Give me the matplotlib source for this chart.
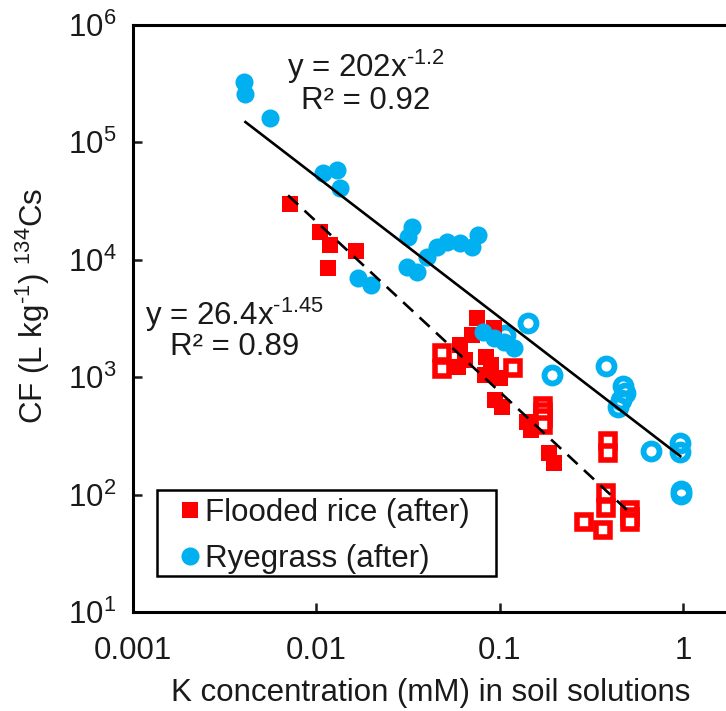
import matplotlib
matplotlib.use("Agg")
import matplotlib.pyplot as plt
import numpy as np
from matplotlib.lines import Line2D
from matplotlib.patches import Rectangle

plt.rcParams['font.family'] = ['Liberation Sans', 'DejaVu Sans']
plt.rcParams['mathtext.fontset'] = 'custom'
plt.rcParams['mathtext.rm'] = 'Liberation Sans'
plt.rcParams['mathtext.it'] = 'Liberation Sans:italic'
plt.rcParams['mathtext.bf'] = 'Liberation Sans:bold'

# Flooded rice (after) - filled squares
rice_x = [0.00713, 0.0104, 0.0119, 0.0165, 0.0116, 0.0753, 0.0933, 0.0708, 0.0602,
          0.0641, 0.0587, 0.0834, 0.0888, 0.0824, 0.0994, 0.0945, 0.103, 0.141,
          0.147, 0.186, 0.198]
rice_y = [29700, 17100, 13300, 11800, 8470, 3180, 2610, 2280, 1870,
          1396, 1217, 1480, 1265, 1040, 980, 637, 556, 414,
          354, 226, 185]

# Flooded rice - open squares
rice_open_x = [0.048, 0.048, 0.117, 0.1726, 0.1726, 0.1726, 0.1726,
               0.386, 0.386, 0.288, 0.365, 0.376, 0.376, 0.508, 0.508, 0.508]
rice_open_y = [1600, 1170, 1193, 570, 500, 450, 390,
               285, 225, 58.7, 49.9, 103, 76.7, 73.8, 64.4, 58.3]

# Ryegrass (after) - filled circles
rye_x = [0.00405, 0.0041, 0.00561, 0.0108, 0.013, 0.0135, 0.0169, 0.0197,
         0.0333, 0.0317, 0.0313, 0.0355, 0.0402, 0.0456, 0.0517, 0.0609,
         0.0708, 0.0762, 0.0804, 0.0933, 0.105, 0.1185]
rye_y = [324000, 256000, 160000, 54500, 57800, 40600, 6960, 6070,
         18900, 15500, 8630, 7830, 10500, 12800, 14100, 13800,
         12800, 16200, 2415, 2148, 2000, 1766]

# Ryegrass - open circles
rye_open_x = [0.107, 0.143, 0.193, 0.376, 0.471, 0.477, 0.459, 0.437, 0.669,
              0.963, 0.963, 0.975, 0.975]
rye_open_y = [2280, 2880, 1040, 1241, 838, 731, 637, 555, 234,
              274, 230, 107, 102]

# Power-law fits
fit_rye = (202, -1.2, 0.0041, 0.96)
fit_rice = (26.4, -1.45, 0.007, 0.5)

xticks = [0.001, 0.01, 0.1, 1]
xticklabels = ['0.001', '0.01', '0.1', '1']
yticks = [10, 100, 1000, 1e4, 1e5, 1e6]
yticklabels = [r'$10^{1}$', r'$10^{2}$', r'$10^{3}$', r'$10^{4}$', r'$10^{5}$', r'$10^{6}$']
legend_labels = ['Flooded rice (after)', 'Ryegrass (after)']

RED = '#FF0000'
BLUE = '#00B0F0'
TXT = '#1a1a1a'
FS = 22.5
W, H = 726, 711

fig = plt.figure(figsize=(7.26, 7.11), dpi=100)
ax = fig.add_axes([0.1832, 0.1392, 1.011, 0.8263])
ax.set_xscale('log')
ax.set_yscale('log')
ax.set_xlim(0.001, 10)
ax.set_ylim(10, 1e6)

ax.plot(rice_open_x, rice_open_y, 's', ms=9.7, mfc='white', mec=RED, mew=4.0, ls='none', zorder=3)
ax.plot(rice_x, rice_y, 's', ms=11, mfc=RED, mec=RED, mew=0, ls='none', zorder=4)
ax.plot(rye_open_x, rye_open_y, 'o', ms=11.5, mfc='none', mec=BLUE, mew=4.2, ls='none', zorder=3)
ax.plot(rye_x, rye_y, 'o', ms=13, mfc=BLUE, mec=BLUE, mew=0, ls='none', zorder=4)

a, b, x0, x1 = fit_rye
xs = np.logspace(np.log10(x0), np.log10(x1), 50)
ax.plot(xs, a * xs ** b, color='black', lw=1.9, zorder=5)
a, b, x0, x1 = fit_rice
xs = np.logspace(np.log10(x0), np.log10(x1), 50)
ax.plot(xs, a * xs ** b, color='black', lw=1.9, ls=(0, (5.2, 3.3)), zorder=5)

ax.set_xticks(xticks)
ax.set_xticklabels(xticklabels)
ax.set_yticks(yticks)
ax.set_yticklabels(yticklabels)
ax.minorticks_off()
ax.tick_params(axis='both', direction='in', length=6.5, width=1.8, labelsize=FS, colors=TXT)
ax.tick_params(axis='x', pad=17)
ax.tick_params(axis='y', pad=12)
for s in ax.spines.values():
    s.set_linewidth(2.2)

ax.set_xlabel('K concentration (mM) in soil solutions', fontsize=FS, color=TXT)
ax.xaxis.set_label_coords((431 - 133) / 734, (612 - 678) / 587.5)
ax.set_ylabel(r'CF (L kg$^{\text{-1}}$) $^{134}$Cs', fontsize=FS, color=TXT)
ax.yaxis.set_label_coords((52 - 133) / 734, (612 - 306) / 587.5)

fig.text(366 / W, 1 - 67 / H, r'y = 202x$^{\text{-1.2}}$', fontsize=FS, color=TXT, ha='center', va='center')
fig.text(366 / W, 1 - 101 / H, 'R² = 0.92', fontsize=FS, color=TXT, ha='center', va='center')
fig.text(145 / W, 1 - 315 / H, r'y = 26.4x$^{\text{-1.45}}$', fontsize=FS, color=TXT, ha='left', va='center')
fig.text(235 / W, 1 - 347 / H, 'R² = 0.89', fontsize=FS, color=TXT, ha='center', va='center')

# legend frame drawn separately
fig.patches.append(Rectangle((157 / W, 1 - 576 / H), (496 - 157) / W, (576 - 490) / H,
                             transform=fig.transFigure, fill=True, facecolor='white',
                             edgecolor='black', lw=1.8, zorder=6))
handles = [Line2D([], [], marker='s', ls='none', ms=11, mfc=RED, mec=RED, mew=0),
           Line2D([], [], marker='o', ls='none', ms=13, mfc=BLUE, mec=BLUE, mew=0)]
leg = fig.legend(handles, legend_labels, loc='upper left',
                 bbox_to_anchor=(174 / W, 1 - 498 / H), bbox_transform=fig.transFigure,
                 borderaxespad=0, borderpad=0, fontsize=FS, frameon=False,
                 handlelength=1.0, handletextpad=0.0, labelspacing=0.5)
leg.set_zorder(7)
for t in leg.get_texts():
    t.set_color(TXT)

fig.savefig('out.png', dpi=100)
